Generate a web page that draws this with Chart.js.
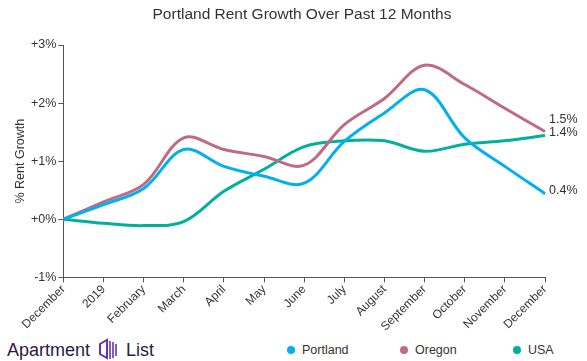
<!DOCTYPE html>
<html lang="en">
<head>
<meta charset="UTF-8">
<title>Portland Rent Growth</title>
<script src="https://cdn.jsdelivr.net/npm/chart.js"></script>
<style>
    body { margin: 0; background: #fff; font-family: Arial, "Liberation Sans", sans-serif; }
    .wrap { position: relative; width: 587px; height: 361px; }
    #rentChart { position: absolute; left: 0; top: 0; }
    .title { position: absolute; left: 0; width: 604px; top: 5px; text-align: center; font-size: 15.5px; color: #333; }
    .logo { position: absolute; left: 7px; top: 338px; font-size: 18px; color: #2d1a47; display: flex; align-items: center; }
    .logo svg { margin: 0 7px 0 7px; }
    .legend { position: absolute; top: 343px; font-size: 12.5px; color: #333; display: flex; align-items: center; }
    .legend span.dot { width: 8px; height: 8px; border-radius: 50%; display: inline-block; margin-right: 7px; }
</style>
</head>
<body>
<div class="wrap">
    <canvas id="rentChart" width="587" height="334"></canvas>
    <div class="title">Portland Rent Growth Over Past 12 Months</div>
    <div class="logo">Apartment<svg width="22" height="24" viewBox="0 0 22 24"><path d="M3 6 L10 2 L10 20 L3 16 Z" fill="none" stroke="#6b2fc0" stroke-width="2"/><path d="M13 3 L13 21 M16 4 L16 20 M19 6 L19 18" stroke="#6b2fc0" stroke-width="1.6"/></svg>List</div>
    <div class="legend" style="left:287px"><span class="dot" style="background:#00b0f0"></span>Portland</div>
    <div class="legend" style="left:400px"><span class="dot" style="background:#c06b84"></span>Oregon</div>
    <div class="legend" style="left:513px"><span class="dot" style="background:#00b09a"></span>USA</div>
</div>
<script>
// datos
const months = ['December', '2019', 'February', 'March', 'April', 'May', 'June', 'July', 'August', 'September', 'October', 'November', 'December'];
const portland = [0, 0.25, 0.53, 1.2, 0.91, 0.74, 0.62, 1.34, 1.83, 2.23, 1.4, 0.91, 0.44];
const oregon = [0, 0.3, 0.6, 1.4, 1.2, 1.08, 0.93, 1.63, 2.08, 2.65, 2.32, 1.91, 1.51];
const usa = [0, -0.07, -0.11, -0.04, 0.48, 0.86, 1.25, 1.35, 1.35, 1.17, 1.29, 1.35, 1.44];
const yTicks = [-1, 0, 1, 2, 3];

// etiquetas al final de cada linea
const endLabels = {
    id: 'endLabels',
    afterDatasetsDraw(chart) {
        const ctx = chart.ctx;
        const offsets = [-3, -12, -3];
        ctx.save();
        ctx.font = '12.5px Arial';
        ctx.fillStyle = '#333';
        ctx.textBaseline = 'middle';
        chart.data.datasets.forEach((ds, i) => {
            const meta = chart.getDatasetMeta(i);
            const pt = meta.data[meta.data.length - 1];
            const v = ds.data[ds.data.length - 1];
            ctx.fillText(v.toFixed(1) + '%', pt.x + 4, pt.y + offsets[i]);
        });
        ctx.restore();
    }
};

const ctx = document.getElementById('rentChart').getContext('2d');
const chart = new Chart(ctx, {
    type: 'line',
    data: {
        labels: months,
        datasets: [
            { label: 'Portland', data: portland, borderColor: '#00b0f0' },
            { label: 'Oregon', data: oregon, borderColor: '#c06b84' },
            { label: 'USA', data: usa, borderColor: '#00b09a' }
        ]
    },
    options: {
        responsive: false,
        animation: false,
        layout: { padding: { left: 12, right: 42, top: 45, bottom: 0 } },
        elements: {
            line: { borderWidth: 3, tension: 0.35 },
            point: { radius: 0 }
        },
        plugins: {
            legend: { display: false },
            tooltip: { enabled: false }
        },
        scales: {
            x: {
                grid: { drawOnChartArea: false, color: '#555', tickLength: 5 },
                border: { color: '#555' },
                ticks: { color: '#333', font: { size: 12, family: 'Arial' }, maxRotation: 45, minRotation: 45, autoSkip: false, padding: 0 }
            },
            y: {
                min: -1,
                max: 3,
                afterBuildTicks: (axis) => { axis.ticks = yTicks.map(v => ({ value: v })); },
                grid: { drawOnChartArea: false, color: '#555', tickLength: 5 },
                border: { color: '#555' },
                ticks: {
                    color: '#333',
                    font: { size: 12.5, family: 'Arial' },
                    padding: 2,
                    callback: (v) => (v < 0 ? v : '+' + v) + '%'
                },
                title: { display: true, text: '% Rent Growth', color: '#333', font: { size: 12.5, family: 'Arial' }, padding: 1 }
            }
        }
    },
    plugins: [endLabels]
});
</script>
</body>
</html>
